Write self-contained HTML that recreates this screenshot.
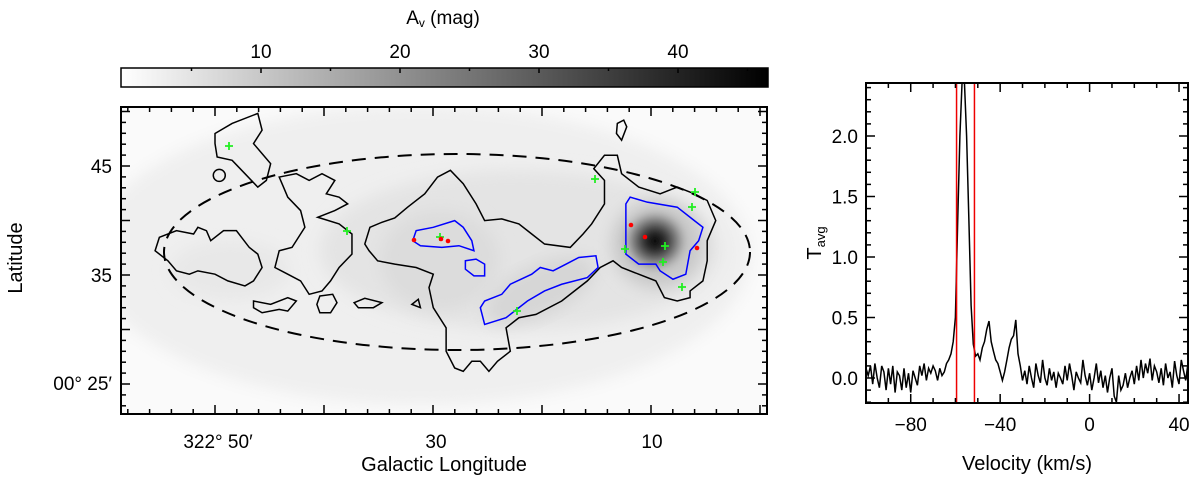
<!DOCTYPE html>
<html><head><meta charset="utf-8">
<style>
html,body{margin:0;padding:0;background:#fff;}
svg{display:block;font-family:"Liberation Sans",Arial,sans-serif;}
</style></head>
<body>
<svg id="fig" width="1200" height="479" viewBox="0 0 1200 479" xmlns="http://www.w3.org/2000/svg">
<defs>
<linearGradient id="cbgrad" x1="0" x2="1" y1="0" y2="0">
<stop offset="0" stop-color="#ffffff"/><stop offset="1" stop-color="#000000"/>
</linearGradient>
<radialGradient id="peak" cx="0.5" cy="0.5" r="0.5">
<stop offset="0" stop-color="#000"/><stop offset="0.3" stop-color="#333"/><stop offset="0.6" stop-color="#888"/><stop offset="1" stop-color="#d8d8d8" stop-opacity="0"/>
</radialGradient>
<filter id="blur" x="-20%" y="-20%" width="140%" height="140%"><feGaussianBlur stdDeviation="8"/></filter>
<filter id="blur2" x="-20%" y="-20%" width="140%" height="140%"><feGaussianBlur stdDeviation="3"/></filter>
<clipPath id="mapclip"><rect x="121" y="107" width="646" height="307"/></clipPath>
<clipPath id="specclip"><rect x="866" y="83" width="322" height="320"/></clipPath>
</defs>

<g>
<rect x="121" y="68" width="647" height="19" fill="url(#cbgrad)" stroke="#000" stroke-width="1.5"/>
<g id="cbticks"></g>
<text x="443" y="24" font-size="19" text-anchor="middle">A<tspan font-size="12" dy="3">v</tspan><tspan dy="-3"> (mag)</tspan></text>
</g>

<g>
<g clip-path="url(#mapclip)">
<rect x="121" y="107" width="646" height="307" fill="#fafafa"/>
<ellipse cx="420" cy="255" rx="330" ry="150" fill="#efefef" filter="url(#blur)"/>
<ellipse cx="520" cy="250" rx="200" ry="80" fill="#e4e4e4" filter="url(#blur)"/>
<ellipse cx="440" cy="260" rx="60" ry="50" fill="#dcdcdc" filter="url(#blur)"/>
<ellipse cx="540" cy="290" rx="60" ry="25" fill="#d6d6d6" filter="url(#blur)" transform="rotate(-25 540 290)"/>
<ellipse cx="658" cy="244" rx="46" ry="44" fill="#c8c8c8" filter="url(#blur)"/>
<ellipse cx="655" cy="241" rx="38" ry="36" fill="url(#peak)" filter="url(#blur2)"/>
<ellipse cx="230" cy="270" rx="60" ry="30" fill="#e8e8e8" filter="url(#blur)"/>
</g>
<g transform="translate(108,93.3) scale(0.428,0.335)" fill="none" stroke="#000" stroke-width="1.5">
<path vector-effect="non-scaling-stroke" d="M612,400 L640,385 670,372 700,340 740,300 770,250 800,230 830,270 860,330 880,380 920,375 960,390 990,420 1020,450 1080,460 1110,420 1130,390 1160,330 1160,260 1135,225 1160,185 1190,185 1200,240 1240,280 1290,300 1330,280 1370,300 1400,320 1420,380 1400,440 1400,500 1390,560 1360,590 1360,610 1330,620 1300,610 1280,560 1240,540 1200,520 1180,500 1150,520 1120,560 1060,620 1000,660 960,670 930,700 940,770 910,800 890,830 870,800 850,800 830,830 810,820 790,770 790,700 760,640 750,580 760,540 720,520 670,510 630,500 610,470 600,450 Z"/>
<path vector-effect="non-scaling-stroke" d="M250,120 L290,90 350,60 360,110 340,150 360,180 380,210 370,260 350,280 320,240 290,200 255,190 250,150 Z"/>
<ellipse vector-effect="non-scaling-stroke" cx="260" cy="245" rx="14" ry="18"/>
<path vector-effect="non-scaling-stroke" d="M110,470 L120,430 160,410 200,420 210,400 230,410 240,440 270,410 300,410 330,460 350,480 360,520 340,560 320,575 280,560 250,540 210,530 190,540 160,530 140,500 Z"/>
<path vector-effect="non-scaling-stroke" d="M400,250 L440,240 470,260 500,240 530,260 510,300 540,310 560,330 530,350 490,370 540,390 570,420 570,480 540,520 520,560 500,590 470,600 450,560 420,540 390,520 400,470 430,460 460,400 450,350 420,310 410,280 Z"/>
<path vector-effect="non-scaling-stroke" d="M340,620 L380,630 420,610 440,620 420,650 400,645 360,655 340,640 Z"/>
<path vector-effect="non-scaling-stroke" d="M495,605 L525,600 535,625 520,655 495,655 488,630 Z"/>
<path vector-effect="non-scaling-stroke" d="M575,625 L600,612 640,625 620,640 585,640 Z"/>
<path vector-effect="non-scaling-stroke" d="M1190,90 L1205,80 1212,100 1200,140 1188,120 Z"/>
<path vector-effect="non-scaling-stroke" d="M710,630 L725,615 730,640 Z"/>
<g stroke="#0000ff">
<path vector-effect="non-scaling-stroke" d="M712,440 L720,410 760,400 810,380 830,400 850,440 855,470 820,455 780,460 730,455 Z"/>
<path vector-effect="non-scaling-stroke" d="M835,500 L860,495 880,510 880,545 855,545 835,525 Z"/>
<path vector-effect="non-scaling-stroke" d="M870,640 L880,620 920,600 940,570 990,540 1010,520 1040,530 1070,510 1100,490 1140,485 1145,520 1120,550 1060,570 1020,590 980,620 930,670 880,690 Z"/>
<path vector-effect="non-scaling-stroke" d="M1210,330 L1220,310 1260,325 1330,340 1370,380 1390,400 1380,440 1360,470 1350,540 1320,555 1290,530 1280,510 1240,510 1210,480 1210,430 Z"/>
</g>
</g>
<ellipse cx="457" cy="252" rx="293" ry="98" fill="none" stroke="#000" stroke-width="2" stroke-dasharray="14,9" clip-path="url(#mapclip)"/>
<g id="markers"></g>
<rect x="121" y="107" width="646" height="307" fill="none" stroke="#000" stroke-width="2"/>
<g id="mapticks"></g>
<g font-size="19">
<text x="218" y="448" text-anchor="middle">322° 50′</text>
<text x="436" y="448" text-anchor="middle">30</text>
<text x="652" y="448" text-anchor="middle">10</text>
<text x="112" y="173" text-anchor="end">45</text>
<text x="112" y="282" text-anchor="end">35</text>
<text x="112" y="390" text-anchor="end">00° 25′</text>
</g>
<text x="444" y="471" font-size="20" text-anchor="middle">Galactic Longitude</text>
<text transform="translate(22,258) rotate(-90)" font-size="20" text-anchor="middle">Latitude</text>
</g>

<g>
<g id="spec" clip-path="url(#specclip)"></g>
<rect x="866" y="83" width="322" height="320" fill="none" stroke="#000" stroke-width="2"/>
<g id="specticks"></g>
<text x="1027" y="470" font-size="20" text-anchor="middle">Velocity (km/s)</text>
<text transform="translate(821,243) rotate(-90)" font-size="20" text-anchor="middle">T<tspan font-size="13" dy="4">avg</tspan></text>
</g>
</svg>
<script>
const NS="http://www.w3.org/2000/svg";
const vStart=-100;
const tavg=[0.08,0.02,0.1,-0.05,0.12,0.0,-0.08,0.1,0.05,-0.1,0.08,-0.05,0.1,-0.12,0.05,0.02,-0.1,0.08,-0.08,0.04,-0.12,0.06,0.0,-0.06,0.1,0.02,0.12,-0.02,0.08,0.04,0.1,0.06,-0.02,0.08,0.02,0.05,0.12,0.15,0.2,0.3,
0.5,1.3,2.0,2.45,2.45,2.0,1.3,0.6,0.28,0.18,0.2,0.15,0.25,0.3,0.4,0.47,0.3,0.22,0.15,0.12,0.05,-0.02,0.05,0.15,0.25,0.32,0.35,0.48,0.2,0.1,-0.02,
0.06,-0.05,0.1,0.0,-0.08,0.12,0.02,-0.04,0.15,0.0,-0.06,0.08,-0.02,0.05,-0.08,0.04,0.0,-0.05,0.1,-0.02,0.12,0.02,-0.1,0.05,0.0,-0.04,0.15,0.02,-0.06,0.04,-0.1,0.0,0.12,-0.04,0.06,-0.08,0.02,-0.12,0.0,0.08,-0.15,-0.2,0.02,-0.1,-0.06,0.04,-0.08,0.0,0.06,-0.05,0.1,-0.02,0.15,0.0,0.12,0.04,0.16,-0.02,0.1,0.05,
-0.04,0.08,-0.06,0.12,0.0,0.05,-0.08,0.14,0.02,-0.05,0.15,0.06,-0.02,0.12,0.04,0.1];
const redLines=[-59.5,-51.5];
const specXTicks=[-80,-40,0,40];
const specYTicks=[0.0,0.5,1.0,1.5,2.0];
const sx=v=>866+(v+100)*2.236;
const sy=t=>378-t*121;
const specG=document.getElementById('spec');
let d='';
tavg.forEach((t,i)=>{d+=(i?'L':'M')+sx(vStart+i).toFixed(1)+','+sy(t).toFixed(1);});
const line=document.createElementNS(NS,'path');
line.setAttribute('d',d);line.setAttribute('fill','none');line.setAttribute('stroke','#000');line.setAttribute('stroke-width','1.5');


specG.appendChild(line);
redLines.forEach(v=>{
  const l=document.createElementNS(NS,'line');
  l.setAttribute('x1',sx(v));l.setAttribute('x2',sx(v));l.setAttribute('y1',83);l.setAttribute('y2',403);
  l.setAttribute('stroke','#e00');l.setAttribute('stroke-width','1.5');
  
  
  specG.appendChild(l);
});
const st=document.getElementById('specticks');
function tick(g,x1,y1,x2,y2,w){const l=document.createElementNS(NS,'line');l.setAttribute('x1',x1);l.setAttribute('y1',y1);l.setAttribute('x2',x2);l.setAttribute('y2',y2);l.setAttribute('stroke','#000');l.setAttribute('stroke-width',w||1.5);g.appendChild(l);}
function label(g,x,y,txt,anchor,name){const t=document.createElementNS(NS,'text');t.setAttribute('x',x);t.setAttribute('y',y);t.setAttribute('font-size','19');t.setAttribute('text-anchor',anchor);t.textContent=txt;
  
  
  g.appendChild(t);}
for(let v=-100;v<=44;v+=10){const x=sx(v);const L=(v%40===0)?9:5;tick(st,x,403,x,403-L);tick(st,x,83,x,83+L);}
for(let k=-2;k<=24;k++){const t=k/10;const y=sy(t);if(y<83||y>403)continue;const L=(k%5===0)?9:5;tick(st,866,y,866+L,y);tick(st,1188,y,1188-L,y);}
specXTicks.forEach(v=>label(st,sx(v),431,v<0?'\u2212'+Math.abs(v):String(v),'middle','x-tick-label'));
specYTicks.forEach(t=>label(st,858,sy(t)+7,t.toFixed(1),'end','y-tick-label'));

const cbTicks=[10,20,30,40];
const cx=a=>122+a*13.9;
const cbg=document.getElementById('cbticks');
for(let a=5;a<=45;a+=5){const L=(a%10===0)?5:3;tick(cbg,cx(a),68,cx(a),68+L,1.5);}
cbTicks.forEach(a=>label(cbg,cx(a),58,String(a),'middle','colorbar-tick-label'));

const mx=m=>760-m*10.9;
const my=b=>166+(45-b)*10.9;
const mt=document.getElementById('mapticks');
for(let m=0;m<=58;m+=2){const x=mx(m);if(x<121||x>767)continue;const L=(m%10===0)?9:5;tick(mt,x,414,x,414-L);tick(mt,x,107,x,107+L);}
for(let b=22;b<=50;b++){const y=my(b);if(y<107||y>414)continue;const L=(b%5===0)?9:5;tick(mt,121,y,121+L,y);tick(mt,767,y,767-L,y);}

const mk=document.getElementById('markers');
const greenPts=[[229,146],[347,231],[440,237],[517,311],[595,179],[625,249],[665,246],[663,262],[682,287],[692,207],[695,192]];
const redPts=[[414,240],[441,239],[448,241],[631,225],[645,237],[697,248]];
greenPts.forEach(p=>{
  const g=document.createElementNS(NS,'path');
  g.setAttribute('d',`M${p[0]-4},${p[1]}h8M${p[0]},${p[1]-4}v8`);
  g.setAttribute('stroke','#22ee22');g.setAttribute('stroke-width','1.8');
  
  
  mk.appendChild(g);
});
redPts.forEach(p=>{
  const c=document.createElementNS(NS,'circle');
  c.setAttribute('cx',p[0]);c.setAttribute('cy',p[1]);c.setAttribute('r','2.3');c.setAttribute('fill','#f00');
  
  
  mk.appendChild(c);
});
</script>
</body></html>
